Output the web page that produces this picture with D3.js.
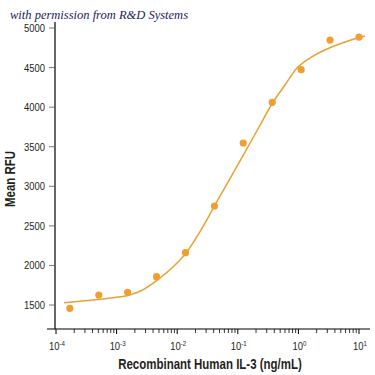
<!DOCTYPE html>
<html>
<head>
<meta charset="utf-8">
<script src="https://cdn.jsdelivr.net/npm/d3@7"></script>
<style>
  body { margin: 0; background: #fff; }
  svg { display: block; }
</style>
</head>
<body>
<div id="canvas"></div>
<script>
// measured points, 3-fold dilution series (ng/mL)
var concentrations = [0.000169, 0.000508, 0.00152, 0.00457, 0.0137, 0.0412, 0.123, 0.370, 1.11, 3.33, 10];
var meanRFU = [1458, 1626, 1660, 1858, 2161, 2751, 3547, 4061, 4473, 4848, 4886];

// fitted curve
var fitX = [0.0001355, 0.000249, 0.000493, 0.000872, 0.00149, 0.00243, 0.00482, 0.0092, 0.0145, 0.0238, 0.0421, 0.0743, 0.122, 0.215, 0.366, 0.601, 0.948, 1.55, 2.96, 5.87, 12.6];
var fitY = [1528, 1547, 1569, 1591, 1618, 1674, 1822, 2005, 2172, 2427, 2764, 3098, 3389, 3724, 4040, 4280, 4495, 4621, 4735, 4823, 4899];

var yTicks = [1500, 2000, 2500, 3000, 3500, 4000, 4500, 5000];
var xTickExp = [-4, -3, -2, -1, 0, 1];

var POINT_COLOR = "#F09F2E";
var LINE_COLOR = "#E9A133";
var TEXT_COLOR = "#231F20";
var NOTE_COLOR = "#1B2160";

var width = 375, height = 375;

var svg = d3.select("#canvas").append("svg")
    .attr("width", width).attr("height", height);

var x = d3.scaleLog().domain([1e-4, 10]).range([56, 359]);
var y = d3.scaleLinear().domain([1197, 5076]).range([329, 22]);

var axisLeft = 55, axisBottom = 329;
var sans = "'Liberation Sans', Arial, sans-serif";
var SQUEEZE = 0.82; // condensed look

function narrowAt(px, py) {
    return "translate(" + px + "," + py + ") scale(" + SQUEEZE + ",1)";
}

// x axis line and ticks
svg.append("line")
    .attr("x1", 47).attr("x2", 370)
    .attr("y1", axisBottom).attr("y2", axisBottom)
    .attr("stroke", "#000").attr("stroke-width", 1.2);

var minor = [];
for (var e = -4; e < 1; e++) {
    for (var m = 2; m < 10; m++) minor.push(m * Math.pow(10, e));
}
svg.selectAll("line.minor").data(minor).enter().append("line")
    .attr("class", "minor")
    .attr("x1", function(d){ return x(d); }).attr("x2", function(d){ return x(d); })
    .attr("y1", axisBottom).attr("y2", axisBottom + 4)
    .attr("stroke", "#000").attr("stroke-width", 0.8);

svg.selectAll("line.major").data(xTickExp).enter().append("line")
    .attr("class", "major")
    .attr("x1", function(d){ return x(Math.pow(10, d)); }).attr("x2", function(d){ return x(Math.pow(10, d)); })
    .attr("y1", axisBottom).attr("y2", axisBottom + 5)
    .attr("stroke", "#000").attr("stroke-width", 1);

var xl = svg.selectAll("text.xlab").data(xTickExp).enter().append("text")
    .attr("class", "xlab")
    .attr("transform", function(d){ return narrowAt(x(Math.pow(10, d)) + 1, 350); })
    .attr("text-anchor", "middle")
    .attr("font-family", sans).attr("font-size", 11.5)
    .attr("fill", TEXT_COLOR);
xl.append("tspan").text("10");
xl.append("tspan").attr("dy", -4.5).attr("font-size", 7.5).text(function(d){ return d; });

// y axis
svg.append("line")
    .attr("x1", axisLeft).attr("x2", axisLeft)
    .attr("y1", 22).attr("y2", axisBottom)
    .attr("stroke", "#000").attr("stroke-width", 1.2);

svg.selectAll("line.ytick").data(yTicks).enter().append("line")
    .attr("class", "ytick")
    .attr("x1", axisLeft - 6).attr("x2", axisLeft)
    .attr("y1", function(d){ return y(d); }).attr("y2", function(d){ return y(d); })
    .attr("stroke", "#555").attr("stroke-width", 0.8);

svg.selectAll("text.ylab").data(yTicks).enter().append("text")
    .attr("class", "ylab")
    .attr("transform", function(d){ return narrowAt(45, y(d) + 4); })
    .attr("text-anchor", "end")
    .attr("font-family", sans).attr("font-size", 11.5)
    .attr("fill", TEXT_COLOR)
    .text(function(d){ return d; });

// axis titles
svg.append("text")
    .attr("transform", "translate(15,179) rotate(-90) scale(" + SQUEEZE + ",1)")
    .attr("text-anchor", "middle")
    .attr("font-family", sans).attr("font-size", 14).attr("font-weight", "bold")
    .attr("fill", TEXT_COLOR)
    .text("Mean RFU");

svg.append("text")
    .attr("transform", narrowAt(210, 369))
    .attr("text-anchor", "middle")
    .attr("font-family", sans).attr("font-size", 14).attr("font-weight", "bold")
    .attr("fill", TEXT_COLOR)
    .text("Recombinant Human IL-3 (ng/mL)");

// fitted curve
var fit = fitX.map(function(d, i){ return [d, fitY[i]]; });
var line = d3.line()
    .x(function(d){ return x(d[0]); })
    .y(function(d){ return y(d[1]); })
    .curve(d3.curveMonotoneX);

svg.append("path")
    .datum(fit)
    .attr("d", line)
    .attr("fill", "none")
    .attr("stroke", LINE_COLOR)
    .attr("stroke-width", 1.5);

// data points
svg.selectAll("circle").data(concentrations).enter().append("circle")
    .attr("cx", function(d){ return x(d); })
    .attr("cy", function(d, i){ return y(meanRFU[i]); })
    .attr("r", 3.6)
    .attr("fill", POINT_COLOR);

// permission note
svg.append("text")
    .attr("x", 10).attr("y", 19)
    .attr("font-family", "'Liberation Serif', 'DejaVu Serif', serif")
    .attr("font-style", "italic")
    .attr("font-size", 12.5)
    .attr("fill", NOTE_COLOR)
    .text("with permission from R&D Systems");
</script>
</body>
</html>
